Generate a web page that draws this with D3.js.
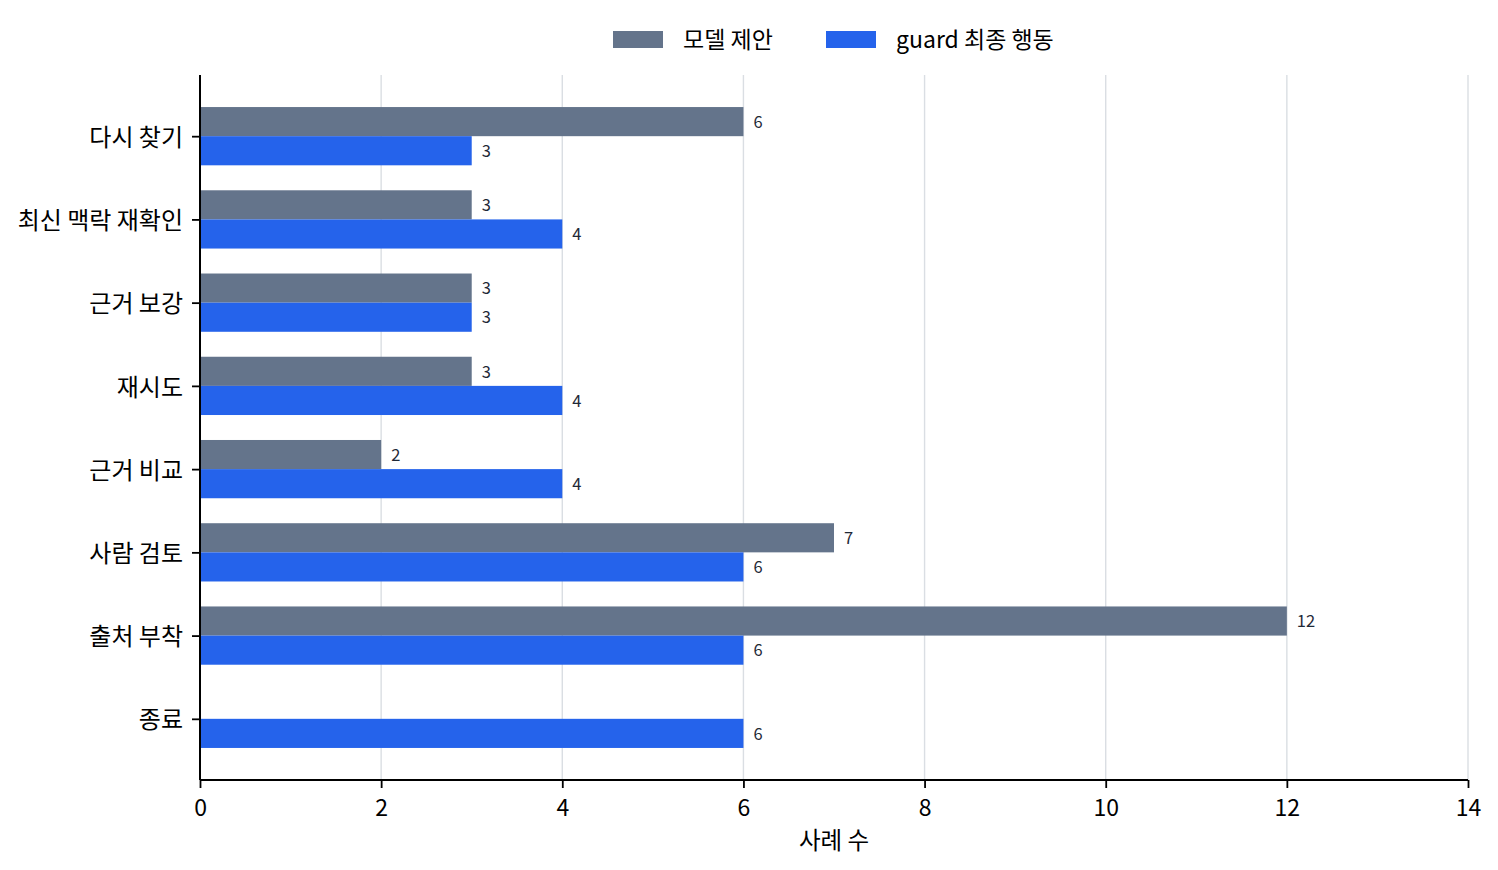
<!DOCTYPE html>
<html>
<head>
<meta charset="utf-8">
<script src="https://cdn.jsdelivr.net/npm/d3@7"></script>
<style>
  body { margin: 0; background: #fff; }
  svg { font-family: "Noto Sans CJK KR", "Noto Sans", sans-serif; }
</style>
</head>
<body>
<div id="chart"></div>
<script>
var categories = ["다시 찾기", "최신 맥락 재확인", "근거 보강", "재시도", "근거 비교", "사람 검토", "출처 부착", "종료"]
var modelValues = [6, 3, 3, 3, 2, 7, 12, 0]
var guardValues = [3, 4, 3, 4, 4, 6, 6, 6]
var seriesNames = ["모델 제안", "guard 최종 행동"]
var xTicks = [0, 2, 4, 6, 8, 10, 12, 14]
var colors = ["#64748b", "#2563eb"]

var width = 1498, height = 870
var margin = {top: 75, right: 30, bottom: 90, left: 200}
var innerW = width - margin.left - margin.right
var innerH = height - margin.top - margin.bottom

var svg = d3.select("#chart").append("svg")
	.attr("width", width)
	.attr("height", height)

var g = svg.append("g").attr("transform", `translate(${margin.left},${margin.top})`)

var x = d3.scaleLinear().domain([0, 14]).range([0, innerW])

// matplotlib-style: positions 0..7, bars of 0.35, 5% margin
var barH = 0.35
var lo = -barH - 0.385, hi = categories.length - 1 + barH + 0.385
var y = d3.scaleLinear().domain([lo, hi]).range([0, innerH])

// grid
g.append("g").selectAll("line")
	.data(xTicks)
	.join("line")
	.attr("x1", d => x(d)).attr("x2", d => x(d))
	.attr("y1", 0).attr("y2", innerH)
	.attr("stroke", "#dadee3")
	.attr("stroke-width", 1.4)

var series = [modelValues, guardValues]

series.forEach((vals, s) => {
	var offset = s === 0 ? -barH : 0
	var rows = categories.map((c, i) => ({i: i, v: vals[i]}))
	g.append("g").selectAll("rect")
		.data(rows)
		.join("rect")
		.attr("x", x(0))
		.attr("y", d => y(d.i + offset))
		.attr("width", d => x(d.v) - x(0))
		.attr("height", y(barH) - y(0))
		.attr("fill", colors[s])

	g.append("g").selectAll("text")
		.data(rows.filter(d => d.v > 0))
		.join("text")
		.attr("x", d => x(d.v) + 10)
		.attr("y", d => y(d.i + offset + barH / 2))
		.attr("dy", "0.38em")
		.attr("font-size", 16.5)
		.attr("fill", "#1f2937")
		.text(d => d.v)
})

// y axis
var yAxis = g.append("g")
	.call(d3.axisLeft(y).tickValues(d3.range(categories.length)).tickFormat(i => categories[i]).tickSize(8).tickPadding(9))
yAxis.select(".domain").attr("d", `M0,0V${innerH}`).attr("stroke", "#000").attr("stroke-width", 2)
yAxis.selectAll(".tick line").attr("stroke", "#000").attr("stroke-width", 1.8)
yAxis.selectAll(".tick text").attr("font-size", 24).attr("fill", "#000").attr("dy", "0.38em").attr("font-family", "Noto Sans CJK KR")

// x axis
var xAxis = g.append("g")
	.attr("transform", `translate(0,${innerH})`)
	.call(d3.axisBottom(x).tickValues(xTicks).tickSize(8).tickPadding(12))
xAxis.select(".domain").attr("d", `M0,0H${innerW}`).attr("stroke", "#000").attr("stroke-width", 2)
xAxis.selectAll(".tick line").attr("stroke", "#000").attr("stroke-width", 1.8)
xAxis.selectAll(".tick text").attr("font-size", 23).attr("fill", "#000").attr("font-family", "Noto Sans CJK KR")

svg.append("text")
	.attr("x", margin.left + innerW / 2)
	.attr("y", 849)
	.attr("text-anchor", "middle")
	.attr("font-size", 23.5)
	.text("사례 수")

// legend
var legendX = [613, 826]
seriesNames.forEach((name, s) => {
	var lg = svg.append("g").attr("transform", `translate(${legendX[s]},31)`)
	lg.append("rect").attr("width", 50).attr("height", 17).attr("fill", colors[s])
	lg.append("text").attr("x", 70).attr("y", 8.5).attr("dy", "0.38em")
		.attr("font-size", 23).text(name)
})
</script>
</body>
</html>
